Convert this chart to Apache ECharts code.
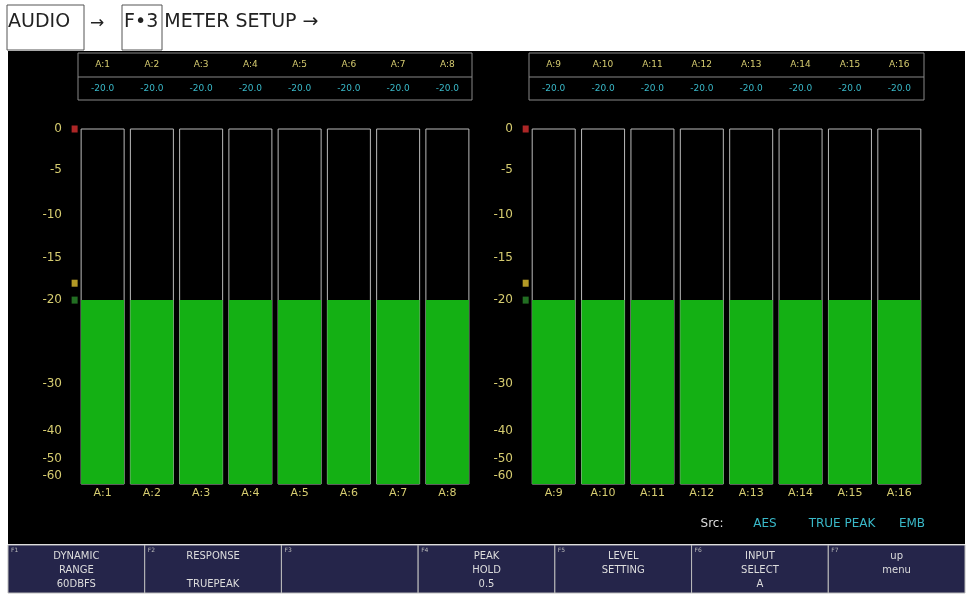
<!DOCTYPE html>
<html><head><meta charset="utf-8">
<script src="https://cdn.jsdelivr.net/npm/echarts@6/dist/echarts.min.js"></script>
<style>html,body{margin:0;padding:0;background:#fff}#c{width:973px;height:598px}</style>
</head><body><div id="c"></div>
<script>
const leftChannels = ['A:1','A:2','A:3','A:4','A:5','A:6','A:7','A:8'];
const rightChannels = ['A:9','A:10','A:11','A:12','A:13','A:14','A:15','A:16'];
const leftLevels = [-20,-20,-20,-20,-20,-20,-20,-20];
const rightLevels = [-20,-20,-20,-20,-20,-20,-20,-20];
const leftReadout = ['-20.0','-20.0','-20.0','-20.0','-20.0','-20.0','-20.0','-20.0'];
const rightReadout = ['-20.0','-20.0','-20.0','-20.0','-20.0','-20.0','-20.0','-20.0'];
const dbTicks = [0,-5,-10,-15,-20,-30,-40,-50,-60];
const scaleUnits = [100,88.5,75.8,63.7,51.8,28.2,14.9,7.0,2.3]; // meter scale position of each tick (nonlinear meter)
const refMarks = [{db:0,color:'#d83030'},{db:-18,color:'#e0c030'},{db:-20,color:'#2a8a2a'}];
const buttons = [['DYNAMIC','RANGE','60DBFS'],['RESPONSE','','TRUEPEAK'],['','',''],['PEAK','HOLD','0.5'],['LEVEL','SETTING',''],['INPUT','SELECT','A'],['up','menu','']];

function toScale(db){
  if(db>=0) return 100;
  for(let i=0;i<dbTicks.length-1;i++){
    if(db<=dbTicks[i] && db>=dbTicks[i+1]){
      const t=(dbTicks[i]-db)/(dbTicks[i]-dbTicks[i+1]);
      return scaleUnits[i]+(scaleUnits[i+1]-scaleUnits[i])*t;
    }
  }
  return 0;
}
function labelFor(u){const i=scaleUnits.findIndex(v=>Math.abs(v-u)<1e-6);return i>=0?String(dbTicks[i]):'';}

const chart = echarts.init(document.getElementById('c'));
const grids=[{left:78,width:394,top:129,height:355},{left:529,width:395,top:129,height:355}];
const yel='#d6cc70', cyan='#39b8c8';
function yAx(i){return {gridIndex:i,type:'value',min:0,max:100,splitLine:{show:false},axisLine:{show:false},axisTick:{show:false},
  axisLabel:{customValues:scaleUnits,formatter:v=>labelFor(v),color:yel,fontSize:12,margin:16,fontFamily:'DejaVu Sans'}};}
function xAx(i,cats){return {gridIndex:i,type:'category',data:cats,axisLine:{show:false},axisTick:{show:false},
  axisLabel:{color:yel,fontSize:11,margin:4,fontFamily:'DejaVu Sans'}};}
function barS(i,levels){return {type:'bar',xAxisIndex:i,yAxisIndex:i,barWidth:43,data:levels.map(toScale),
  itemStyle:{color:'#14b014'},showBackground:true,backgroundStyle:{color:'#000',borderColor:'#bbb',borderWidth:1},animation:false};}
function markS(i,cats){return {type:'scatter',xAxisIndex:i,yAxisIndex:i,symbol:'rect',symbolSize:[6,7],symbolOffset:[-28,0],
  data:refMarks.map(m=>({value:[cats[0],toScale(m.db)],itemStyle:{color:m.color}})),animation:false,silent:true,z:5};}

const g=[];
g.push({type:'rect',shape:{x:8,y:51,width:957,height:493},style:{fill:'#000'},z:-10});
// breadcrumb
g.push({type:'text',left:8,top:13,style:{text:'AUDIO',font:'19px "DejaVu Sans"',fill:'#222'}});
g.push({type:'rect',shape:{x:7,y:5,width:77,height:45},style:{fill:'none',stroke:'#555',lineWidth:1}});
g.push({type:'text',left:90,top:15,style:{text:'→',font:'17px "DejaVu Sans"',fill:'#222'}});
g.push({type:'rect',shape:{x:122,y:5,width:40,height:45},style:{fill:'none',stroke:'#555',lineWidth:1}});
g.push({type:'text',left:124,top:13,style:{text:'F•3 METER SETUP →',font:'19px "DejaVu Sans"',fill:'#222'}});
// readout tables
[[78,394,leftChannels,leftReadout],[529,395,rightChannels,rightReadout]].forEach(([x,w,ch,rd])=>{
  g.push({type:'rect',shape:{x:x,y:53,width:w,height:47},style:{fill:'none',stroke:'#888',lineWidth:1}});
  g.push({type:'line',shape:{x1:x,y1:77,x2:x+w,y2:77},style:{stroke:'#888',lineWidth:1}});
  const pitch=w/ch.length;
  ch.forEach((c,k)=>{
    g.push({type:'text',x:x+pitch*(k+0.5),y:65,style:{text:c,font:'9px "DejaVu Sans"',fill:yel,align:'center',verticalAlign:'middle'}});
    g.push({type:'text',x:x+pitch*(k+0.5),y:89,style:{text:rd[k],font:'9px "DejaVu Sans"',fill:cyan,align:'center',verticalAlign:'middle'}});
  });
});
// source line
g.push({type:'text',x:712,y:524,style:{text:'Src:',font:'12px "DejaVu Sans"',fill:'#ddd',align:'center',verticalAlign:'middle'}});
g.push({type:'text',x:765,y:524,style:{text:'AES',font:'12px "DejaVu Sans"',fill:cyan,align:'center',verticalAlign:'middle'}});
g.push({type:'text',x:842,y:524,style:{text:'TRUE PEAK',font:'12px "DejaVu Sans"',fill:cyan,align:'center',verticalAlign:'middle'}});
g.push({type:'text',x:912,y:524,style:{text:'EMB',font:'12px "DejaVu Sans"',fill:cyan,align:'center',verticalAlign:'middle'}});
// function buttons
const bw=957/7;
buttons.forEach((b,k)=>{
  const x=8+bw*k;
  g.push({type:'rect',shape:{x:x,y:545,width:bw,height:48},style:{fill:'#25254a',stroke:'#bbb',lineWidth:1}});
  g.push({type:'text',x:x+3,y:547,style:{text:'F'+(k+1),font:'6px "DejaVu Sans"',fill:'#bbb'}});
  b.forEach((t,j)=>{ if(t) g.push({type:'text',x:x+bw/2,y:556+j*14,style:{text:t,font:'10px "DejaVu Sans"',fill:'#ddd',align:'center',verticalAlign:'middle'}}); });
});

chart.setOption({
  animation:false,
  backgroundColor:'#fff',
  grid:grids,
  xAxis:[xAx(0,leftChannels),xAx(1,rightChannels)],
  yAxis:[yAx(0),yAx(1)],
  series:[barS(0,leftLevels),barS(1,rightLevels),markS(0,leftChannels),markS(1,rightChannels)],
  graphic:g
});
</script></body></html>
